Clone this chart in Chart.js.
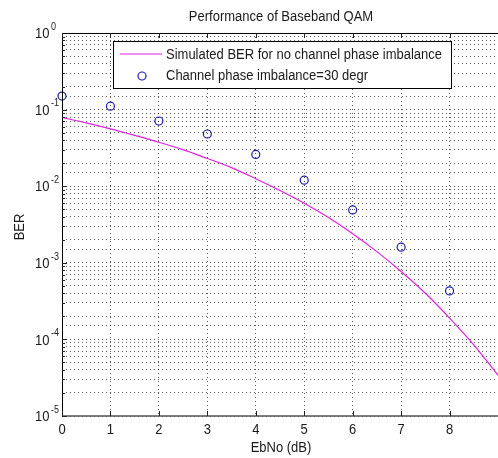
<!DOCTYPE html>
<html>
<head>
<meta charset="utf-8">
<script src="https://cdn.jsdelivr.net/npm/chart.js@4"></script>
<style>
  html, body { margin: 0; padding: 0; background: #fff; }
  #c { display: block; }
</style>
</head>
<body>
<canvas id="c" width="498" height="458"></canvas>
<script>
// curve (no phase imbalance)
const ebnoLine = [0, 0.5, 1, 1.5, 2, 2.5, 3, 3.5, 4, 4.5, 5, 5.5, 6, 6.5, 7, 7.5, 8, 8.5, 9];
const berLine = [0.079, 0.067, 0.056, 0.046, 0.0375, 0.03, 0.023, 0.0175, 0.0125, 0.0088, 0.006,
  0.0039, 0.0024, 0.0014, 0.00077, 0.0004, 0.00019, 0.000085, 0.000034];

// markers (phase imbalance 30 deg)
const ebnoPts = [0, 1, 2, 3, 4, 5, 6, 7, 8];
const berPts = [0.15, 0.111, 0.071, 0.048, 0.026, 0.012, 0.0049, 0.0016, 0.00043];

const xTicks = [0, 1, 2, 3, 4, 5, 6, 7, 8];
const yExps = [0, -1, -2, -3, -4, -5];

const titleText = "Performance of Baseband QAM";
const xLabel = "EbNo (dB)";
const yLabel = "BER";
const legendLabels = ["Simulated BER for no channel phase imbalance", "Channel phase imbalance=30 degr"];

const FONT = "'Liberation Sans', Arial, Helvetica, sans-serif";
const STRETCH = 1.16; // source text is a bit taller than wide
const TXT = "#1a1a1a";
const LINE_COL = "#e020e0";
const PT_COL = "#1c1ca8";

function text(ctx, s, x, y, size, align, rot) {
  ctx.save();
  ctx.translate(x, y);
  if (rot) ctx.rotate(rot);
  ctx.scale(1, STRETCH);
  ctx.font = size + "px " + FONT;
  ctx.fillStyle = TXT;
  ctx.textAlign = align || "center";
  ctx.textBaseline = "middle";
  ctx.fillText(s, 0, 0);
  ctx.restore();
}

const decorations = {
  id: "decorations",
  afterDraw(chart) {
    const { ctx, chartArea: a, scales } = chart;
    const xs = scales.x, ys = scales.y;
    ctx.save();
    ctx.setLineDash([]);

    // box
    ctx.strokeStyle = "#000";
    ctx.lineWidth = 1;
    ctx.beginPath();
    ctx.moveTo(a.left + 0.5, a.bottom);
    ctx.lineTo(a.left + 0.5, a.top + 0.5);
    ctx.lineTo(a.right, a.top + 0.5);
    ctx.stroke();
    ctx.strokeStyle = "#555";
    ctx.lineWidth = 1.5;
    ctx.beginPath();
    ctx.moveTo(a.left, a.bottom);
    ctx.lineTo(a.right, a.bottom);
    ctx.stroke();

    // tick marks
    ctx.strokeStyle = "#222";
    ctx.lineWidth = 1;
    ctx.beginPath();
    xTicks.forEach((v) => {
      const px = Math.round(xs.getPixelForValue(v)) + 0.5;
      ctx.moveTo(px, a.bottom); ctx.lineTo(px, a.bottom - 5);
      ctx.moveTo(px, a.top); ctx.lineTo(px, a.top + 5);
    });
    for (let e = -5; e < 0; e++) {
      for (let m = 1; m < 10; m++) {
        const py = Math.round(ys.getPixelForValue(m * Math.pow(10, e))) + 0.5;
        ctx.moveTo(a.left, py); ctx.lineTo(a.left + (m === 1 ? 5 : 3), py);
      }
    }
    ctx.stroke();

    // tick labels
    xTicks.forEach((v) => text(ctx, String(v), xs.getPixelForValue(v), 430, 13, "center"));
    yExps.forEach((e) => {
      const py = ys.getPixelForValue(Math.pow(10, e));
      text(ctx, "10", 35, py + 1, 13, "left");
      text(ctx, String(e), 51, py - 6, 9, "left");
    });

    // titles
    text(ctx, titleText, (62 + 500) / 2, 17, 13, "center");
    text(ctx, xLabel, (62 + 500) / 2, 448, 13, "center");
    text(ctx, yLabel, 20, 227, 13, "center", -Math.PI / 2);

    // legend
    const lx = 113, ly = 41, lw = 338, lh = 47;
    ctx.fillStyle = "#fff";
    ctx.fillRect(lx, ly, lw, lh);
    ctx.strokeStyle = "#000";
    ctx.lineWidth = 1;
    ctx.strokeRect(lx + 0.5, ly + 0.5, lw, lh);
    ctx.strokeStyle = LINE_COL;
    ctx.lineWidth = 1.2;
    ctx.beginPath();
    ctx.moveTo(120, 54); ctx.lineTo(162, 54);
    ctx.stroke();
    ctx.strokeStyle = PT_COL;
    ctx.lineWidth = 1.2;
    ctx.beginPath();
    ctx.arc(142, 76, 4, 0, Math.PI * 2);
    ctx.stroke();
    text(ctx, legendLabels[0], 166, 55, 13, "left");
    text(ctx, legendLabels[1], 166, 76, 13, "left");

    ctx.restore();
  },
};

new Chart(document.getElementById("c"), {
  type: "scatter",
  data: {
    datasets: [
      {
        label: legendLabels[0],
        data: ebnoLine.map((x, i) => ({ x, y: berLine[i] })),
        showLine: true,
        borderColor: LINE_COL,
        borderWidth: 1.2,
        pointRadius: 0,
        cubicInterpolationMode: "monotone",
        fill: false,
      },
      {
        label: legendLabels[1],
        data: ebnoPts.map((x, i) => ({ x, y: berPts[i] })),
        showLine: false,
        clip: false,
        pointStyle: "circle",
        pointRadius: 4,
        borderColor: PT_COL,
        borderWidth: 1.2,
        backgroundColor: "rgba(0,0,0,0)",
      },
    ],
  },
  options: {
    responsive: false,
    animation: false,
    devicePixelRatio: 1,
    layout: { autoPadding: false, padding: { left: 62, top: 33, right: -2, bottom: 42 } },
    plugins: { legend: { display: false }, title: { display: false }, tooltip: { enabled: false } },
    scales: {
      x: {
        type: "linear",
        min: 0,
        max: 9,
        ticks: { display: false, stepSize: 1 },
        grid: { color: "rgba(0,0,0,0.65)", lineWidth: 1, drawTicks: false },
        border: { display: false, dash: [1, 3] },
      },
      y: {
        type: "logarithmic",
        min: 1e-5,
        max: 1,
        ticks: { display: false },
        grid: { color: "rgba(0,0,0,0.65)", lineWidth: 1, drawTicks: false },
        border: { display: false, dash: [1, 3] },
      },
    },
  },
  plugins: [decorations],
});
</script>
</body>
</html>
